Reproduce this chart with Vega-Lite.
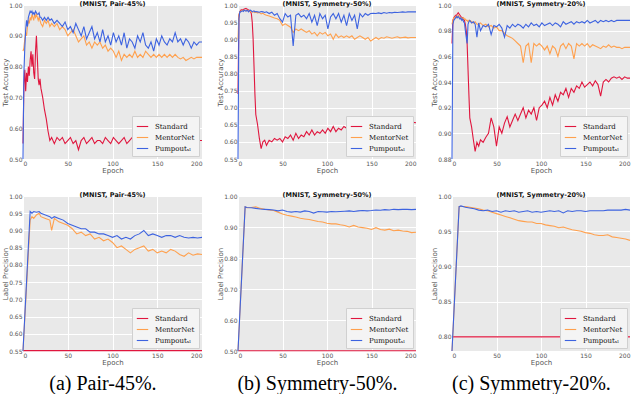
{
"$schema":"https://vega.github.io/schema/vega-lite/v6.json",
"padding":{"left":1,"top":0,"right":0,"bottom":0},
"background":"white",
"spacing":11,
"config":{
 "view":{"fill":"#e9e9e9","stroke":null},
 "axis":{"grid":true,"gridColor":"#ffffff","gridWidth":1,"domain":false,"ticks":false,"labelFont":"DejaVu Sans","labelFontSize":6,"labelColor":"#555555","labelPadding":1,"titleFont":"DejaVu Sans","titleFontSize":7,"titleFontWeight":"normal","titleColor":"#555555","titlePadding":0},
 "title":{"font":"DejaVu Sans","fontSize":6.5,"fontWeight":"bold","color":"#111111","offset":-5},
 "legend":{"orient":"bottom-right","offset":3,"fillColor":"#f4f4f4","strokeColor":"#d0d0d0","padding":4,"labelFont":"DejaVu Serif","labelFontSize":7,"labelColor":"#111111","symbolStrokeWidth":2,"symbolSize":130,"rowPadding":1,"labelOffset":6},
 "line":{"strokeWidth":1.1,"clip":true}
},
"resolve":{"scale":{"x":"independent","y":"independent","color":"independent"},"legend":{"color":"independent"}},
"datasets":{
"a1":[
{"e":0,"S":0.55,"M":0.85,"P":0.5},{"e":1,"S":0.74,"M":0.86,"P":0.78},{"e":2,"S":0.79,"M":0.89,"P":0.86},{"e":3,"S":0.72,"M":0.91,"P":0.92},{"e":4,"S":0.78,"M":0.9,"P":0.95},{"e":5,"S":0.75,"M":0.93,"P":0.93},{"e":6,"S":0.8,"M":0.95,"P":0.96},{"e":7,"S":0.77,"M":0.94,"P":0.97},{"e":8,"S":0.82,"M":0.96,"P":0.98},{"e":9,"S":0.85,"M":0.95,"P":0.975},{"e":10,"S":0.8,"M":0.97,"P":0.98},{"e":11,"S":0.84,"M":0.96,"P":0.97},{"e":12,"S":0.78,"M":0.95,"P":0.975},{"e":13,"S":0.76,"M":0.97,"P":0.97},{"e":14,"S":0.85,"M":0.96,"P":0.98},{"e":15,"S":0.9,"M":0.97,"P":0.975},{"e":16,"S":0.83,"M":0.96,"P":0.97},{"e":17,"S":0.76,"M":0.95,"P":0.97},{"e":18,"S":0.74,"M":0.96,"P":0.975},{"e":19,"S":0.76,"M":0.95,"P":0.96},{"e":20,"S":0.73,"M":0.94,"P":0.96},{"e":22,"S":0.7,"M":0.93,"P":0.95},{"e":24,"S":0.66,"M":0.95,"P":0.96},{"e":26,"S":0.63,"M":0.94,"P":0.95},{"e":28,"S":0.59,"M":0.95,"P":0.96},{"e":30,"S":0.56,"M":0.93,"P":0.95},{"e":32,"S":0.57,"M":0.94,"P":0.955},{"e":35,"S":0.55,"M":0.93,"P":0.94},{"e":38,"S":0.57,"M":0.94,"P":0.95},{"e":41,"S":0.56,"M":0.92,"P":0.94},{"e":44,"S":0.57,"M":0.93,"P":0.93},{"e":47,"S":0.55,"M":0.92,"P":0.945},{"e":50,"S":0.56,"M":0.9,"P":0.92},{"e":53,"S":0.57,"M":0.91,"P":0.93},{"e":56,"S":0.55,"M":0.92,"P":0.91},{"e":59,"S":0.56,"M":0.9,"P":0.94},{"e":62,"S":0.53,"M":0.88,"P":0.92},{"e":65,"S":0.56,"M":0.89,"P":0.9},{"e":68,"S":0.57,"M":0.9,"P":0.93},{"e":71,"S":0.55,"M":0.87,"P":0.89},{"e":74,"S":0.56,"M":0.88,"P":0.91},{"e":77,"S":0.57,"M":0.86,"P":0.93},{"e":80,"S":0.55,"M":0.88,"P":0.89},{"e":83,"S":0.56,"M":0.87,"P":0.91},{"e":86,"S":0.56,"M":0.88,"P":0.88},{"e":89,"S":0.55,"M":0.86,"P":0.92},{"e":92,"S":0.57,"M":0.87,"P":0.88},{"e":95,"S":0.56,"M":0.85,"P":0.9},{"e":98,"S":0.55,"M":0.86,"P":0.87},{"e":101,"S":0.57,"M":0.85,"P":0.91},{"e":104,"S":0.56,"M":0.83,"P":0.88},{"e":107,"S":0.55,"M":0.85,"P":0.9},{"e":110,"S":0.56,"M":0.82,"P":0.87},{"e":113,"S":0.57,"M":0.84,"P":0.91},{"e":116,"S":0.55,"M":0.83,"P":0.86},{"e":119,"S":0.56,"M":0.84,"P":0.89},{"e":122,"S":0.57,"M":0.83,"P":0.88},{"e":125,"S":0.55,"M":0.85,"P":0.86},{"e":128,"S":0.56,"M":0.83,"P":0.9},{"e":131,"S":0.57,"M":0.84,"P":0.88},{"e":134,"S":0.56,"M":0.83,"P":0.91},{"e":137,"S":0.55,"M":0.85,"P":0.87},{"e":140,"S":0.56,"M":0.84,"P":0.86},{"e":143,"S":0.565,"M":0.83,"P":0.88},{"e":146,"S":0.56,"M":0.84,"P":0.85},{"e":149,"S":0.565,"M":0.83,"P":0.89},{"e":152,"S":0.56,"M":0.84,"P":0.87},{"e":155,"S":0.56,"M":0.83,"P":0.9},{"e":158,"S":0.565,"M":0.84,"P":0.88},{"e":161,"S":0.56,"M":0.83,"P":0.87},{"e":164,"S":0.56,"M":0.84,"P":0.89},{"e":167,"S":0.565,"M":0.83,"P":0.88},{"e":170,"S":0.56,"M":0.84,"P":0.91},{"e":173,"S":0.56,"M":0.83,"P":0.88},{"e":176,"S":0.565,"M":0.825,"P":0.89},{"e":179,"S":0.56,"M":0.83,"P":0.87},{"e":182,"S":0.56,"M":0.82,"P":0.89},{"e":185,"S":0.56,"M":0.825,"P":0.88},{"e":188,"S":0.56,"M":0.83,"P":0.86},{"e":191,"S":0.56,"M":0.825,"P":0.88},{"e":194,"S":0.56,"M":0.83,"P":0.87},{"e":197,"S":0.56,"M":0.83,"P":0.88},{"e":200,"S":0.56,"M":0.83,"P":0.88}
],
"b1":[
{"e":0,"S":0.74,"M":0.9,"P":0.55},{"e":1,"S":0.97,"M":0.97,"P":0.96},{"e":2,"S":0.98,"M":0.98,"P":0.98},{"e":3,"S":0.985,"M":0.982,"P":0.98},{"e":4,"S":0.986,"M":0.983,"P":0.982},{"e":5,"S":0.986,"M":0.985,"P":0.983},{"e":6,"S":0.987,"M":0.984,"P":0.981},{"e":7,"S":0.988,"M":0.985,"P":0.985},{"e":8,"S":0.989,"M":0.984,"P":0.983},{"e":9,"S":0.99,"M":0.983,"P":0.982},{"e":10,"S":0.988,"M":0.985,"P":0.984},{"e":11,"S":0.987,"M":0.984,"P":0.983},{"e":12,"S":0.985,"M":0.982,"P":0.98},{"e":13,"S":0.984,"M":0.983,"P":0.984},{"e":14,"S":0.98,"M":0.98,"P":0.985},{"e":15,"S":0.975,"M":0.981,"P":0.983},{"e":16,"S":0.95,"M":0.98,"P":0.98},{"e":17,"S":0.9,"M":0.979,"P":0.982},{"e":18,"S":0.82,"M":0.98,"P":0.983},{"e":19,"S":0.74,"M":0.978,"P":0.98},{"e":20,"S":0.68,"M":0.979,"P":0.981},{"e":22,"S":0.65,"M":0.977,"P":0.98},{"e":24,"S":0.61,"M":0.978,"P":0.979},{"e":26,"S":0.58,"M":0.974,"P":0.981},{"e":28,"S":0.6,"M":0.976,"P":0.98},{"e":30,"S":0.605,"M":0.972,"P":0.978},{"e":32,"S":0.59,"M":0.97,"P":0.98},{"e":35,"S":0.605,"M":0.968,"P":0.975},{"e":38,"S":0.6,"M":0.965,"P":0.979},{"e":41,"S":0.61,"M":0.962,"P":0.97},{"e":44,"S":0.605,"M":0.96,"P":0.975},{"e":47,"S":0.61,"M":0.955,"P":0.96},{"e":50,"S":0.6,"M":0.94,"P":0.95},{"e":53,"S":0.615,"M":0.945,"P":0.975},{"e":56,"S":0.61,"M":0.94,"P":0.965},{"e":59,"S":0.62,"M":0.935,"P":0.97},{"e":62,"S":0.605,"M":0.92,"P":0.88},{"e":65,"S":0.625,"M":0.93,"P":0.97},{"e":68,"S":0.61,"M":0.925,"P":0.975},{"e":71,"S":0.62,"M":0.93,"P":0.965},{"e":74,"S":0.615,"M":0.925,"P":0.97},{"e":77,"S":0.63,"M":0.92,"P":0.96},{"e":80,"S":0.62,"M":0.925,"P":0.975},{"e":83,"S":0.635,"M":0.915,"P":0.95},{"e":86,"S":0.62,"M":0.92,"P":0.97},{"e":89,"S":0.63,"M":0.91,"P":0.94},{"e":92,"S":0.625,"M":0.92,"P":0.975},{"e":95,"S":0.635,"M":0.915,"P":0.96},{"e":98,"S":0.625,"M":0.92,"P":0.97},{"e":101,"S":0.64,"M":0.91,"P":0.93},{"e":104,"S":0.63,"M":0.915,"P":0.965},{"e":107,"S":0.645,"M":0.9,"P":0.975},{"e":110,"S":0.63,"M":0.915,"P":0.96},{"e":113,"S":0.64,"M":0.905,"P":0.975},{"e":116,"S":0.635,"M":0.91,"P":0.95},{"e":119,"S":0.645,"M":0.905,"P":0.97},{"e":122,"S":0.64,"M":0.91,"P":0.94},{"e":125,"S":0.65,"M":0.905,"P":0.975},{"e":128,"S":0.64,"M":0.91,"P":0.955},{"e":131,"S":0.65,"M":0.9,"P":0.97},{"e":134,"S":0.645,"M":0.905,"P":0.93},{"e":137,"S":0.655,"M":0.91,"P":0.975},{"e":140,"S":0.65,"M":0.905,"P":0.965},{"e":143,"S":0.66,"M":0.9,"P":0.975},{"e":146,"S":0.66,"M":0.905,"P":0.97},{"e":149,"S":0.655,"M":0.895,"P":0.975},{"e":152,"S":0.615,"M":0.9,"P":0.976},{"e":155,"S":0.64,"M":0.905,"P":0.975},{"e":158,"S":0.645,"M":0.9,"P":0.977},{"e":161,"S":0.65,"M":0.905,"P":0.975},{"e":164,"S":0.645,"M":0.903,"P":0.978},{"e":167,"S":0.65,"M":0.907,"P":0.976},{"e":170,"S":0.655,"M":0.905,"P":0.978},{"e":173,"S":0.65,"M":0.903,"P":0.977},{"e":176,"S":0.655,"M":0.905,"P":0.979},{"e":179,"S":0.655,"M":0.907,"P":0.978},{"e":182,"S":0.66,"M":0.904,"P":0.979},{"e":185,"S":0.66,"M":0.905,"P":0.98},{"e":188,"S":0.658,"M":0.906,"P":0.979},{"e":191,"S":0.66,"M":0.904,"P":0.98},{"e":194,"S":0.658,"M":0.905,"P":0.98},{"e":197,"S":0.657,"M":0.905,"P":0.98},{"e":200,"S":0.656,"M":0.905,"P":0.98}
],
"c1":[
{"e":0,"S":0.97,"M":0.985,"P":0.88},{"e":1,"S":0.988,"M":0.988,"P":0.985},{"e":2,"S":0.99,"M":0.99,"P":0.988},{"e":3,"S":0.991,"M":0.99,"P":0.989},{"e":4,"S":0.992,"M":0.991,"P":0.99},{"e":5,"S":0.992,"M":0.99,"P":0.991},{"e":6,"S":0.993,"M":0.991,"P":0.99},{"e":7,"S":0.994,"M":0.992,"P":0.991},{"e":8,"S":0.993,"M":0.991,"P":0.99},{"e":9,"S":0.992,"M":0.99,"P":0.989},{"e":10,"S":0.991,"M":0.99,"P":0.99},{"e":11,"S":0.99,"M":0.99,"P":0.988},{"e":12,"S":0.99,"M":0.989,"P":0.989},{"e":13,"S":0.989,"M":0.99,"P":0.987},{"e":14,"S":0.988,"M":0.989,"P":0.986},{"e":15,"S":0.985,"M":0.989,"P":0.98},{"e":16,"S":0.98,"M":0.988,"P":0.975},{"e":17,"S":0.97,"M":0.988,"P":0.97},{"e":18,"S":0.95,"M":0.987,"P":0.985},{"e":19,"S":0.93,"M":0.988,"P":0.987},{"e":20,"S":0.912,"M":0.988,"P":0.988},{"e":22,"S":0.905,"M":0.987,"P":0.986},{"e":24,"S":0.895,"M":0.986,"P":0.987},{"e":26,"S":0.886,"M":0.987,"P":0.985},{"e":28,"S":0.893,"M":0.985,"P":0.975},{"e":30,"S":0.89,"M":0.985,"P":0.986},{"e":32,"S":0.895,"M":0.986,"P":0.98},{"e":35,"S":0.893,"M":0.984,"P":0.984},{"e":38,"S":0.897,"M":0.985,"P":0.983},{"e":41,"S":0.9,"M":0.983,"P":0.985},{"e":44,"S":0.912,"M":0.984,"P":0.977},{"e":47,"S":0.905,"M":0.982,"P":0.984},{"e":50,"S":0.89,"M":0.983,"P":0.983},{"e":53,"S":0.905,"M":0.98,"P":0.985},{"e":56,"S":0.9,"M":0.98,"P":0.982},{"e":59,"S":0.908,"M":0.978,"P":0.975},{"e":62,"S":0.913,"M":0.976,"P":0.984},{"e":65,"S":0.905,"M":0.975,"P":0.982},{"e":68,"S":0.91,"M":0.974,"P":0.985},{"e":71,"S":0.915,"M":0.972,"P":0.983},{"e":74,"S":0.91,"M":0.97,"P":0.985},{"e":77,"S":0.915,"M":0.968,"P":0.984},{"e":80,"S":0.92,"M":0.955,"P":0.982},{"e":83,"S":0.912,"M":0.968,"P":0.985},{"e":86,"S":0.918,"M":0.97,"P":0.983},{"e":89,"S":0.915,"M":0.955,"P":0.986},{"e":92,"S":0.92,"M":0.97,"P":0.984},{"e":95,"S":0.91,"M":0.968,"P":0.985},{"e":98,"S":0.92,"M":0.97,"P":0.983},{"e":101,"S":0.922,"M":0.968,"P":0.986},{"e":104,"S":0.925,"M":0.965,"P":0.984},{"e":107,"S":0.92,"M":0.968,"P":0.985},{"e":110,"S":0.928,"M":0.962,"P":0.986},{"e":113,"S":0.922,"M":0.968,"P":0.984},{"e":116,"S":0.93,"M":0.966,"P":0.986},{"e":119,"S":0.925,"M":0.96,"P":0.985},{"e":122,"S":0.932,"M":0.968,"P":0.983},{"e":125,"S":0.93,"M":0.97,"P":0.987},{"e":128,"S":0.935,"M":0.966,"P":0.985},{"e":131,"S":0.928,"M":0.97,"P":0.986},{"e":134,"S":0.935,"M":0.968,"P":0.987},{"e":137,"S":0.932,"M":0.958,"P":0.985},{"e":140,"S":0.937,"M":0.97,"P":0.987},{"e":143,"S":0.935,"M":0.968,"P":0.986},{"e":146,"S":0.94,"M":0.97,"P":0.987},{"e":149,"S":0.936,"M":0.968,"P":0.986},{"e":152,"S":0.938,"M":0.97,"P":0.988},{"e":155,"S":0.94,"M":0.967,"P":0.986},{"e":158,"S":0.937,"M":0.969,"P":0.987},{"e":161,"S":0.941,"M":0.968,"P":0.988},{"e":164,"S":0.938,"M":0.967,"P":0.986},{"e":167,"S":0.929,"M":0.966,"P":0.988},{"e":170,"S":0.94,"M":0.968,"P":0.987},{"e":173,"S":0.942,"M":0.967,"P":0.988},{"e":176,"S":0.94,"M":0.969,"P":0.987},{"e":179,"S":0.943,"M":0.967,"P":0.988},{"e":182,"S":0.944,"M":0.968,"P":0.987},{"e":185,"S":0.943,"M":0.967,"P":0.988},{"e":188,"S":0.944,"M":0.967,"P":0.988},{"e":191,"S":0.942,"M":0.966,"P":0.988},{"e":194,"S":0.944,"M":0.967,"P":0.988},{"e":197,"S":0.943,"M":0.967,"P":0.988},{"e":200,"S":0.943,"M":0.967,"P":0.988}
],
"a2":[
{"e":0,"S":0.551,"M":0.55,"P":0.55},{"e":8,"S":0.551,"M":0.93,"P":0.955},{"e":10,"S":0.551,"M":0.94,"P":0.95},{"e":12,"S":0.551,"M":0.935,"P":0.955},{"e":15,"S":0.551,"M":0.945,"P":0.953},{"e":18,"S":0.551,"M":0.95,"P":0.955},{"e":20,"S":0.551,"M":0.94,"P":0.95},{"e":25,"S":0.551,"M":0.935,"P":0.945},{"e":30,"S":0.551,"M":0.93,"P":0.94},{"e":32,"S":0.551,"M":0.9,"P":0.935},{"e":35,"S":0.551,"M":0.935,"P":0.94},{"e":40,"S":0.551,"M":0.925,"P":0.935},{"e":45,"S":0.551,"M":0.92,"P":0.93},{"e":50,"S":0.551,"M":0.915,"P":0.92},{"e":55,"S":0.551,"M":0.905,"P":0.915},{"e":60,"S":0.551,"M":0.89,"P":0.91},{"e":65,"S":0.551,"M":0.895,"P":0.905},{"e":70,"S":0.551,"M":0.885,"P":0.905},{"e":75,"S":0.551,"M":0.89,"P":0.895},{"e":80,"S":0.551,"M":0.875,"P":0.895},{"e":85,"S":0.551,"M":0.88,"P":0.89},{"e":90,"S":0.551,"M":0.87,"P":0.89},{"e":95,"S":0.551,"M":0.875,"P":0.885},{"e":100,"S":0.551,"M":0.865,"P":0.88},{"e":105,"S":0.551,"M":0.85,"P":0.885},{"e":110,"S":0.551,"M":0.855,"P":0.875},{"e":115,"S":0.551,"M":0.845,"P":0.88},{"e":120,"S":0.551,"M":0.835,"P":0.875},{"e":125,"S":0.551,"M":0.845,"P":0.885},{"e":130,"S":0.551,"M":0.85,"P":0.89},{"e":135,"S":0.551,"M":0.855,"P":0.9},{"e":140,"S":0.551,"M":0.84,"P":0.885},{"e":145,"S":0.551,"M":0.845,"P":0.89},{"e":150,"S":0.551,"M":0.835,"P":0.885},{"e":155,"S":0.551,"M":0.84,"P":0.88},{"e":160,"S":0.551,"M":0.835,"P":0.885},{"e":165,"S":0.551,"M":0.845,"P":0.885},{"e":170,"S":0.551,"M":0.84,"P":0.88},{"e":175,"S":0.551,"M":0.83,"P":0.885},{"e":180,"S":0.551,"M":0.825,"P":0.88},{"e":185,"S":0.551,"M":0.835,"P":0.878},{"e":190,"S":0.551,"M":0.828,"P":0.88},{"e":195,"S":0.551,"M":0.832,"P":0.878},{"e":200,"S":0.551,"M":0.83,"P":0.88}
],
"b2":[
{"e":0,"S":0.501,"M":0.5,"P":0.5},{"e":8,"S":0.501,"M":0.965,"P":0.965},{"e":10,"S":0.501,"M":0.962,"P":0.963},{"e":15,"S":0.501,"M":0.963,"P":0.962},{"e":20,"S":0.501,"M":0.965,"P":0.96},{"e":25,"S":0.501,"M":0.96,"P":0.958},{"e":30,"S":0.501,"M":0.957,"P":0.957},{"e":35,"S":0.501,"M":0.955,"P":0.956},{"e":40,"S":0.501,"M":0.953,"P":0.955},{"e":45,"S":0.501,"M":0.948,"P":0.952},{"e":50,"S":0.501,"M":0.942,"P":0.955},{"e":55,"S":0.501,"M":0.938,"P":0.95},{"e":60,"S":0.501,"M":0.935,"P":0.948},{"e":65,"S":0.501,"M":0.932,"P":0.95},{"e":70,"S":0.501,"M":0.928,"P":0.948},{"e":75,"S":0.501,"M":0.926,"P":0.952},{"e":80,"S":0.501,"M":0.924,"P":0.95},{"e":85,"S":0.501,"M":0.921,"P":0.945},{"e":90,"S":0.501,"M":0.918,"P":0.95},{"e":95,"S":0.501,"M":0.916,"P":0.949},{"e":100,"S":0.501,"M":0.912,"P":0.948},{"e":105,"S":0.501,"M":0.91,"P":0.95},{"e":110,"S":0.501,"M":0.91,"P":0.949},{"e":115,"S":0.501,"M":0.907,"P":0.95},{"e":120,"S":0.501,"M":0.905,"P":0.951},{"e":125,"S":0.501,"M":0.9,"P":0.952},{"e":130,"S":0.501,"M":0.905,"P":0.95},{"e":135,"S":0.501,"M":0.9,"P":0.952},{"e":140,"S":0.501,"M":0.898,"P":0.953},{"e":145,"S":0.501,"M":0.896,"P":0.952},{"e":150,"S":0.501,"M":0.892,"P":0.953},{"e":155,"S":0.501,"M":0.898,"P":0.955},{"e":160,"S":0.501,"M":0.892,"P":0.954},{"e":165,"S":0.501,"M":0.89,"P":0.956},{"e":170,"S":0.501,"M":0.893,"P":0.955},{"e":175,"S":0.501,"M":0.888,"P":0.957},{"e":180,"S":0.501,"M":0.89,"P":0.956},{"e":185,"S":0.501,"M":0.887,"P":0.957},{"e":190,"S":0.501,"M":0.886,"P":0.957},{"e":195,"S":0.501,"M":0.882,"P":0.956},{"e":200,"S":0.501,"M":0.883,"P":0.957}
],
"c2":[
{"e":0,"S":0.8,"M":0.78,"P":0.78},{"e":8,"S":0.8,"M":0.985,"P":0.985},{"e":10,"S":0.8,"M":0.985,"P":0.986},{"e":15,"S":0.8,"M":0.985,"P":0.984},{"e":20,"S":0.8,"M":0.984,"P":0.983},{"e":25,"S":0.8,"M":0.983,"P":0.982},{"e":30,"S":0.8,"M":0.982,"P":0.98},{"e":35,"S":0.8,"M":0.98,"P":0.979},{"e":40,"S":0.8,"M":0.979,"P":0.98},{"e":45,"S":0.8,"M":0.977,"P":0.978},{"e":50,"S":0.8,"M":0.975,"P":0.979},{"e":55,"S":0.8,"M":0.973,"P":0.977},{"e":60,"S":0.8,"M":0.971,"P":0.979},{"e":65,"S":0.8,"M":0.969,"P":0.978},{"e":70,"S":0.8,"M":0.967,"P":0.979},{"e":75,"S":0.8,"M":0.965,"P":0.977},{"e":80,"S":0.8,"M":0.964,"P":0.978},{"e":85,"S":0.8,"M":0.963,"P":0.979},{"e":90,"S":0.8,"M":0.963,"P":0.977},{"e":95,"S":0.8,"M":0.961,"P":0.978},{"e":100,"S":0.8,"M":0.961,"P":0.977},{"e":105,"S":0.8,"M":0.959,"P":0.978},{"e":110,"S":0.8,"M":0.958,"P":0.979},{"e":115,"S":0.8,"M":0.957,"P":0.978},{"e":120,"S":0.8,"M":0.955,"P":0.979},{"e":125,"S":0.8,"M":0.956,"P":0.976},{"e":130,"S":0.8,"M":0.954,"P":0.979},{"e":135,"S":0.8,"M":0.952,"P":0.978},{"e":140,"S":0.8,"M":0.951,"P":0.979},{"e":145,"S":0.8,"M":0.95,"P":0.979},{"e":150,"S":0.8,"M":0.948,"P":0.978},{"e":155,"S":0.8,"M":0.947,"P":0.979},{"e":160,"S":0.8,"M":0.945,"P":0.979},{"e":165,"S":0.8,"M":0.944,"P":0.979},{"e":170,"S":0.8,"M":0.944,"P":0.979},{"e":175,"S":0.8,"M":0.945,"P":0.98},{"e":180,"S":0.8,"M":0.942,"P":0.98},{"e":185,"S":0.8,"M":0.941,"P":0.98},{"e":190,"S":0.8,"M":0.94,"P":0.98},{"e":195,"S":0.8,"M":0.939,"P":0.981},{"e":200,"S":0.8,"M":0.937,"P":0.98}
]
},
"hconcat":[
{"title":{"text":"(a) Pair-45%.","orient":"bottom","anchor":"middle","font":"Liberation Serif","fontSize":20,"fontWeight":"normal","color":"#000000","offset":9},
 "spacing":18,
 "resolve":{"scale":{"x":"independent","y":"independent","color":"independent"},"legend":{"color":"independent"}},
 "vconcat":[
 {"width":179,"height":154,"title":"(MNIST, Pair-45%)","data":{"name":"a1"},
  "transform":[{"fold":["S","M","P"],"as":["method","value"]}],
  "mark":{"type":"line"},
  "encoding":{
   "x":{"field":"e","type":"quantitative","scale":{"domain":[0,200],"nice":false},"axis":{"values":[0,50,100,150,200],"title":"Epoch"}},
   "y":{"field":"value","type":"quantitative","scale":{"domain":[0.5,1],"nice":false,"zero":false},"axis":{"values":[0.5,0.6,0.7,0.8,0.9,1.0],"format":".2f","title":"Test Accuracy"}},
   "color":{"field":"method","type":"nominal","sort":["S","M","P"],"scale":{"domain":["S","M","P"],"range":["#e0163e","#ffa04d","#3d63e0"]},"legend":{"title":null,"labelExpr":"datum.label == 'S' ? 'Standard' : datum.label == 'M' ? 'MentorNet' : 'Pumpoutₛₗ'"}}
  }},
 {"width":179,"height":155,"title":"(MNIST, Pair-45%)","data":{"name":"a2"},
  "transform":[{"fold":["S","M","P"],"as":["method","value"]}],
  "mark":{"type":"line"},
  "encoding":{
   "x":{"field":"e","type":"quantitative","scale":{"domain":[0,200],"nice":false},"axis":{"values":[0,50,100,150,200],"title":"Epoch"}},
   "y":{"field":"value","type":"quantitative","scale":{"domain":[0.55,1],"nice":false,"zero":false},"axis":{"values":[0.55,0.6,0.65,0.7,0.75,0.8,0.85,0.9,0.95,1.0],"format":".2f","title":"Label Precision"}},
   "color":{"field":"method","type":"nominal","sort":["S","M","P"],"scale":{"domain":["S","M","P"],"range":["#e0163e","#ffa04d","#3d63e0"]},"legend":{"title":null,"labelExpr":"datum.label == 'S' ? 'Standard' : datum.label == 'M' ? 'MentorNet' : 'Pumpoutₛₗ'"}}
  }}
 ]},
{"title":{"text":"(b) Symmetry-50%.","orient":"bottom","anchor":"middle","font":"Liberation Serif","fontSize":20,"fontWeight":"normal","color":"#000000","offset":9},
 "spacing":18,
 "resolve":{"scale":{"x":"independent","y":"independent","color":"independent"},"legend":{"color":"independent"}},
 "vconcat":[
 {"width":178,"height":154,"title":"(MNIST, Symmetry-50%)","data":{"name":"b1"},
  "transform":[{"fold":["S","M","P"],"as":["method","value"]}],
  "mark":{"type":"line"},
  "encoding":{
   "x":{"field":"e","type":"quantitative","scale":{"domain":[0,200],"nice":false},"axis":{"values":[0,50,100,150,200],"title":"Epoch"}},
   "y":{"field":"value","type":"quantitative","scale":{"domain":[0.55,1],"nice":false,"zero":false},"axis":{"values":[0.55,0.6,0.65,0.7,0.75,0.8,0.85,0.9,0.95,1.0],"format":".2f","title":"Test Accuracy"}},
   "color":{"field":"method","type":"nominal","sort":["S","M","P"],"scale":{"domain":["S","M","P"],"range":["#e0163e","#ffa04d","#3d63e0"]},"legend":{"title":null,"labelExpr":"datum.label == 'S' ? 'Standard' : datum.label == 'M' ? 'MentorNet' : 'Pumpoutₛₗ'"}}
  }},
 {"width":178,"height":155,"title":"(MNIST, Symmetry-50%)","data":{"name":"b2"},
  "transform":[{"fold":["S","M","P"],"as":["method","value"]}],
  "mark":{"type":"line"},
  "encoding":{
   "x":{"field":"e","type":"quantitative","scale":{"domain":[0,200],"nice":false},"axis":{"values":[0,50,100,150,200],"title":"Epoch"}},
   "y":{"field":"value","type":"quantitative","scale":{"domain":[0.5,1],"nice":false,"zero":false},"axis":{"values":[0.5,0.6,0.7,0.8,0.9,1.0],"format":".2f","title":"Label Precision"}},
   "color":{"field":"method","type":"nominal","sort":["S","M","P"],"scale":{"domain":["S","M","P"],"range":["#e0163e","#ffa04d","#3d63e0"]},"legend":{"title":null,"labelExpr":"datum.label == 'S' ? 'Standard' : datum.label == 'M' ? 'MentorNet' : 'Pumpoutₛₗ'"}}
  }}
 ]},
{"title":{"text":"(c) Symmetry-20%.","orient":"bottom","anchor":"middle","font":"Liberation Serif","fontSize":20,"fontWeight":"normal","color":"#000000","offset":9},
 "spacing":18,
 "resolve":{"scale":{"x":"independent","y":"independent","color":"independent"},"legend":{"color":"independent"}},
 "vconcat":[
 {"width":178,"height":154,"title":"(MNIST, Symmetry-20%)","data":{"name":"c1"},
  "transform":[{"fold":["S","M","P"],"as":["method","value"]}],
  "mark":{"type":"line"},
  "encoding":{
   "x":{"field":"e","type":"quantitative","scale":{"domain":[0,200],"nice":false},"axis":{"values":[0,50,100,150,200],"title":"Epoch"}},
   "y":{"field":"value","type":"quantitative","scale":{"domain":[0.88,1],"nice":false,"zero":false},"axis":{"values":[0.88,0.9,0.92,0.94,0.96,0.98,1.0],"format":".2f","title":"Test Accuracy"}},
   "color":{"field":"method","type":"nominal","sort":["S","M","P"],"scale":{"domain":["S","M","P"],"range":["#e0163e","#ffa04d","#3d63e0"]},"legend":{"title":null,"labelExpr":"datum.label == 'S' ? 'Standard' : datum.label == 'M' ? 'MentorNet' : 'Pumpoutₛₗ'"}}
  }},
 {"width":178,"height":155,"title":"(MNIST, Symmetry-20%)","data":{"name":"c2"},
  "transform":[{"fold":["S","M","P"],"as":["method","value"]}],
  "mark":{"type":"line"},
  "encoding":{
   "x":{"field":"e","type":"quantitative","scale":{"domain":[0,200],"nice":false},"axis":{"values":[0,50,100,150,200],"title":"Epoch"}},
   "y":{"field":"value","type":"quantitative","scale":{"domain":[0.78,1],"nice":false,"zero":false},"axis":{"values":[0.8,0.85,0.9,0.95,1.0],"format":".2f","title":"Label Precision"}},
   "color":{"field":"method","type":"nominal","sort":["S","M","P"],"scale":{"domain":["S","M","P"],"range":["#e0163e","#ffa04d","#3d63e0"]},"legend":{"title":null,"labelExpr":"datum.label == 'S' ? 'Standard' : datum.label == 'M' ? 'MentorNet' : 'Pumpoutₛₗ'"}}
  }}
 ]}
]
}
